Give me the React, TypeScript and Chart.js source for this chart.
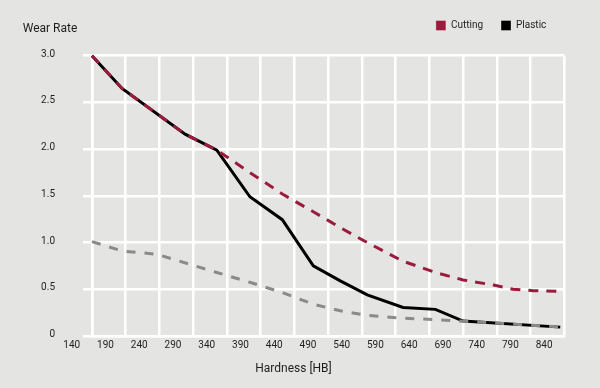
import React, { useEffect, useRef } from 'react';
import { Chart, registerables } from 'chart.js';

Chart.register(...registerables);

// ---- data (Hardness [HB] vs Wear Rate) ----
const CUTTING_X = [170, 214.5, 308, 355, 404, 452, 498, 538, 578, 631, 679, 720, 765, 794, 824, 861];
const CUTTING_Y = [3.0, 2.65, 2.16, 1.99, 1.75, 1.52, 1.33, 1.16, 1.0, 0.8, 0.68, 0.6, 0.545, 0.5, 0.485, 0.478];

const PLASTIC_X = [170, 214.5, 308, 355, 404, 452, 498, 538, 578, 631, 679, 720, 864];
const PLASTIC_Y = [3.0, 2.65, 2.16, 1.99, 1.49, 1.245, 0.75, 0.59, 0.44, 0.305, 0.285, 0.16, 0.095];

const BASE_X = [170, 214.5, 266, 355, 404, 452, 498, 538, 578, 631, 679, 720, 864];
const BASE_Y = [1.01, 0.91, 0.875, 0.68, 0.575, 0.465, 0.34, 0.27, 0.22, 0.19, 0.175, 0.158, 0.098];

const X_GRID = [170, 220, 270, 320, 370, 420, 470, 520, 570, 620, 670, 720, 770, 820, 870];
const X_TICK_LABELS = ['140', '190', '240', '290', '340', '390', '440', '490', '540', '590', '640', '690', '740', '790', '840'];
const Y_TICKS = [0, 0.5, 1.0, 1.5, 2.0, 2.5, 3.0];

const CRIMSON = '#9a1b3b';
const BLACK = '#000000';
const GRAY = '#8a8a8a';
const BG = '#e4e5e3';
const TEXT = '#1e1e1e';
const GRID = '#ffffff';

const toPoints = (xs: number[], ys: number[]) => xs.map((x, i) => ({ x, y: ys[i] }));

export default function App() {
  const ref = useRef<HTMLCanvasElement | null>(null);

  useEffect(() => {
    if (!ref.current) return;
    Chart.defaults.font.family = 'Roboto';
    const chart = new Chart(ref.current, {
      type: 'line',
      data: {
        datasets: [
          {
            label: 'Cutting',
            data: toPoints(CUTTING_X, CUTTING_Y),
            borderColor: CRIMSON,
            backgroundColor: CRIMSON,
            borderDash: [10, 8],
            borderWidth: 3,
            pointRadius: 0,
            tension: 0,
            clip: false,
          } as any,
          {
            label: 'Reference',
            data: toPoints(BASE_X, BASE_Y),
            borderColor: GRAY,
            backgroundColor: GRAY,
            borderDash: [9, 9],
            borderWidth: 3,
            pointRadius: 0,
            tension: 0,
            clip: false,
          } as any,
          {
            label: 'Plastic',
            data: toPoints(PLASTIC_X, PLASTIC_Y),
            borderColor: BLACK,
            backgroundColor: BLACK,
            borderWidth: 3,
            pointRadius: 0,
            tension: 0,
            clip: false,
          } as any,
        ],
      },
      options: {
        animation: false,
        responsive: false,
        layout: { padding: { top: 2.5, left: 22.7, right: 35.7, bottom: 0 } },
        plugins: {
          tooltip: { enabled: false },
          legend: {
            position: 'top',
            align: 'end',
            labels: {
              boxWidth: 10,
              boxHeight: 10,
              padding: 18,
              color: TEXT,
              font: { family: 'Roboto', size: 10 },
              filter: (item: any) => item.text === 'Cutting' || item.text === 'Plastic',
              generateLabels: (c: any) =>
                Chart.defaults.plugins.legend.labels.generateLabels(c).map((it: any) => ({
                  ...it,
                  fillStyle: c.data.datasets[it.datasetIndex].borderColor,
                  strokeStyle: 'rgba(255,255,255,0.3)',
                  lineWidth: 1,
                  lineDash: [],
                })),
            },
          },
          title: {
            display: true,
            text: 'Wear Rate',
            align: 'start',
            position: 'top',
            weight: 500,
            color: TEXT,
            font: { family: 'Roboto', size: 12, weight: 'normal' },
            padding: { top: -18.3, bottom: 19.1 },
          } as any,
          subtitle: {
            display: true,
            text: 'Hardness [HB]',
            align: 'center',
            position: 'bottom',
            color: TEXT,
            font: { family: 'Roboto', size: 12, weight: 'normal' },
            padding: { top: 0, bottom: 11.9 },
          } as any,
        },
        scales: {
          x: {
            type: 'linear',
            min: 170,
            max: 870,
            afterBuildTicks: (s: any) => {
              s.ticks = X_GRID.map((v) => ({ value: v }));
            },
            afterFit: (s: any) => {
              s.height = 25.7;
            },
            grid: { color: GRID, lineWidth: 2.5, drawTicks: false },
            border: { color: GRID, width: 2.5 },
            ticks: {
              autoSkip: false,
              maxRotation: 0,
              padding: 3.5,
              labelOffset: -20.2,
              color: TEXT,
              font: { family: 'Roboto', size: 10 },
              callback: (_v: any, i: number) => X_TICK_LABELS[i],
            },
          },
          y: {
            type: 'linear',
            min: 0,
            max: 3,
            afterBuildTicks: (s: any) => {
              s.ticks = Y_TICKS.map((v) => ({ value: v }));
            },
            afterFit: (s: any) => {
              s.width = 69.3;
            },
            grid: { color: GRID, lineWidth: 2.5, drawTicks: true, tickLength: 9 },
            border: { color: GRID, width: 2.5 },
            ticks: {
              padding: 28,
              labelOffset: -1.5,
              color: TEXT,
              font: { family: 'Roboto', size: 10 },
              callback: (v: any) => (Number(v) === 0 ? '0' : Number(v).toFixed(1)),
            },
          },
        },
      } as any,
    });
    return () => chart.destroy();
  }, []);

  return (
    <div style={{ position: 'fixed', left: 0, top: 0, width: 600, height: 388, background: BG }}>
      <canvas ref={ref} width={600} height={388} style={{ display: 'block', width: 600, height: 388 }} />
    </div>
  );
}
